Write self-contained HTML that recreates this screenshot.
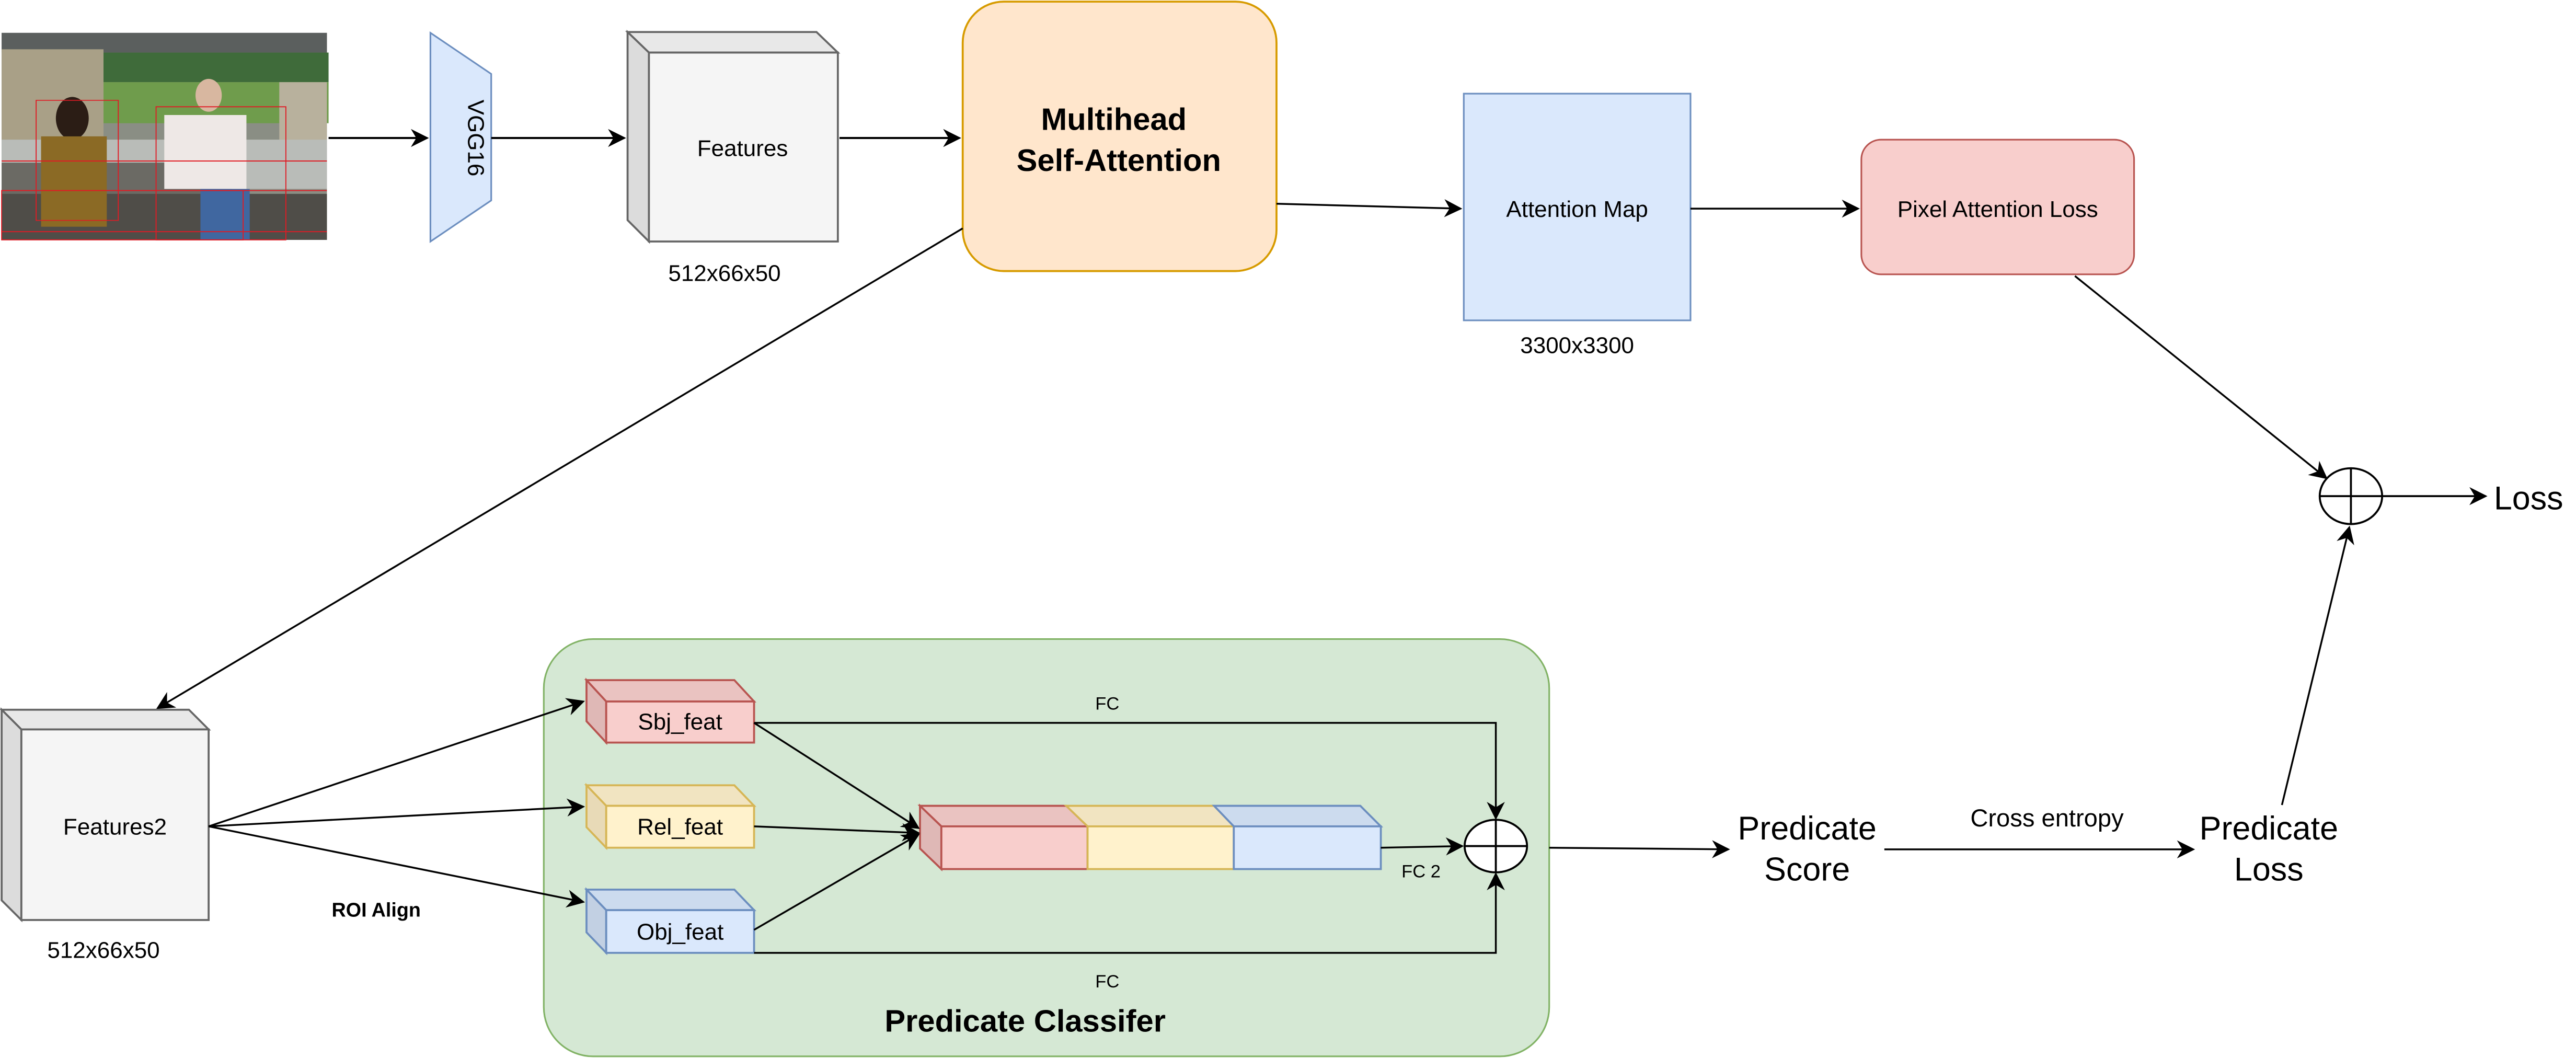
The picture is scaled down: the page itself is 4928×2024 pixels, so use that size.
<!DOCTYPE html>
<html><head><meta charset="utf-8"><style>
html,body{margin:0;padding:0;background:#fff;}
svg{display:block;}
text{font-family:"Liberation Sans",Arial,sans-serif;fill:#000;}
</style></head><body>
<svg width="4928" height="2024" viewBox="0 0 1568 644" xmlns="http://www.w3.org/2000/svg">
<defs>
<marker id="a" viewBox="0 0 10 10" refX="9" refY="5" markerWidth="6" markerHeight="6" orient="auto-start-reverse" markerUnits="userSpaceOnUse">
<path d="M0,0 L10,5 L0,10 L3,5 z" fill="#000"/></marker>
<marker id="b" viewBox="0 0 10 10" refX="9" refY="5" markerWidth="11" markerHeight="11" orient="auto" markerUnits="userSpaceOnUse">
<path d="M0,0 L10,5 L0,10 L3,5 z" fill="#000"/></marker>
</defs>
<rect width="1568" height="644" fill="#fff"/>

<!-- photo -->
<g>
<rect x="1" y="20" width="198" height="126" fill="#8a8e84"/>
<rect x="1" y="20" width="198" height="12" fill="#5b5f5e"/>
<rect x="60" y="32" width="140" height="18" fill="#3f6b3a"/>
<rect x="60" y="50" width="140" height="25" fill="#6f9c4c"/>
<rect x="1" y="30" width="62" height="55" fill="#a9a087"/>
<rect x="170" y="50" width="29" height="40" fill="#b8b19d"/>
<rect x="1" y="85" width="198" height="30" fill="#b9bcb8"/>
<rect x="1" y="99" width="140" height="20" fill="#6b6a64"/>
<rect x="1" y="118" width="198" height="28" fill="#4f4d48"/>
<ellipse cx="44" cy="72" rx="10" ry="13" fill="#2b1d15"/>
<rect x="25" y="83" width="40" height="55" fill="#8b6a25"/>
<ellipse cx="127" cy="58" rx="8" ry="10" fill="#d8b7a0"/>
<rect x="100" y="70" width="50" height="45" fill="#eee8e6"/>
<rect x="122" y="115" width="30" height="31" fill="#4067a0"/>
<g fill="none" stroke="#e01b24" stroke-width="0.6">
<rect x="22" y="71" width="50" height="85" transform="scale(1,0.86)"/>
<rect x="95" y="65" width="79" height="81"/>
<line x1="1" y1="98" x2="199" y2="98"/>
<line x1="1" y1="116" x2="199" y2="116"/>
<line x1="1" y1="141" x2="199" y2="141"/>
<rect x="1" y="116" width="147" height="30"/>
</g>
</g>

<!-- arrow photo->VGG -->
<line x1="200" y1="84" x2="260" y2="84" stroke="#000" stroke-width="1.3" marker-end="url(#b)"/>
<!-- VGG16 -->
<polygon points="262,20 299,45 299,122 262,147" fill="#dae8fc" stroke="#6c8ebf" stroke-width="1"/>
<text x="0" y="0" font-size="14" text-anchor="middle" transform="translate(285,84) rotate(90)" dy="0">VGG16</text>
<line x1="299" y1="84" x2="380" y2="84" stroke="#000" stroke-width="1.3" marker-end="url(#b)"/>

<!-- Features cube -->
<g stroke="#666" stroke-width="1.2">
<polygon points="382,19.5 497,19.5 510,32 395,32" fill="#e8e8e8"/>
<polygon points="382,19.5 395,32 395,147 382,134" fill="#dcdcdc"/>
<rect x="395" y="32" width="115" height="115" fill="#f5f5f5"/>
</g>
<text x="452" y="95" font-size="14" text-anchor="middle" fill="#333">Features</text>
<text x="441" y="171" font-size="14" text-anchor="middle">512x66x50</text>
<line x1="511" y1="84" x2="584" y2="84" stroke="#000" stroke-width="1.3" marker-end="url(#b)"/>

<!-- Multihead -->
<rect x="586" y="1" width="191" height="164" rx="25" fill="#ffe6cc" stroke="#d79b00" stroke-width="1.2"/>
<text x="678" y="79" font-size="19" font-weight="bold" text-anchor="middle">Multihead</text>
<text x="681" y="104" font-size="19" font-weight="bold" text-anchor="middle">Self-Attention</text>
<line x1="777" y1="124" x2="889" y2="127" stroke="#000" stroke-width="1.1" marker-end="url(#b)"/>

<!-- Attention map -->
<rect x="891" y="57" width="138" height="138" fill="#dae8fc" stroke="#6c8ebf" stroke-width="1"/>
<text x="960" y="132" font-size="14" text-anchor="middle">Attention Map</text>
<text x="960" y="215" font-size="14" text-anchor="middle">3300x3300</text>
<line x1="1029" y1="127" x2="1131" y2="127" stroke="#000" stroke-width="1.1" marker-end="url(#b)"/>

<!-- Pixel attention loss -->
<rect x="1133" y="85" width="166" height="82" rx="12" fill="#f8cecc" stroke="#b85450" stroke-width="1"/>
<text x="1216" y="132" font-size="14" text-anchor="middle">Pixel Attention Loss</text>
<line x1="1263" y1="168" x2="1416" y2="291" stroke="#000" stroke-width="1.1" marker-end="url(#b)"/>

<!-- sum circle top -->
<ellipse cx="1431" cy="302" rx="19" ry="17" fill="#fff" stroke="#000" stroke-width="1.2"/>
<line x1="1412" y1="302" x2="1450" y2="302" stroke="#000" stroke-width="1.2"/>
<line x1="1431" y1="285" x2="1431" y2="319" stroke="#000" stroke-width="1.2"/>
<line x1="1450" y1="302" x2="1513" y2="302" stroke="#000" stroke-width="1.2" marker-end="url(#b)"/>
<text x="1518" y="310" font-size="20">Loss</text>

<!-- MSA -> Features2 -->
<line x1="586" y1="139" x2="96" y2="431" stroke="#000" stroke-width="1.1" marker-end="url(#b)"/>

<!-- Features2 cube -->
<g stroke="#666" stroke-width="1.2">
<polygon points="1,432 115,432 127,444 13,444" fill="#e8e8e8"/>
<polygon points="1,432 13,444 13,560 1,548" fill="#dcdcdc"/>
<rect x="13" y="444" width="114" height="116" fill="#f5f5f5"/>
</g>
<text x="70" y="508" font-size="14" text-anchor="middle" fill="#333">Features2</text>
<text x="63" y="583" font-size="14" text-anchor="middle">512x66x50</text>

<!-- green container -->
<rect x="331" y="389" width="612" height="254" rx="30" fill="#d5e8d4" stroke="#82b366" stroke-width="1"/>
<text x="624" y="628" font-size="19" font-weight="bold" text-anchor="middle">Predicate Classifer</text>

<!-- ROI arrows -->
<g stroke="#000" stroke-width="1.1">
<line x1="127" y1="503" x2="355" y2="427" marker-end="url(#b)"/>
<line x1="127" y1="503" x2="355" y2="491" marker-end="url(#b)"/>
<line x1="127" y1="503" x2="355" y2="549" marker-end="url(#b)"/>
</g>
<text x="229" y="558" font-size="12" font-weight="bold" text-anchor="middle">ROI Align</text>

<!-- Sbj -->
<g stroke-width="1.2">
<g stroke="#b85450">
<polygon points="357,414 447,414 459,427 369,427" fill="#eac3c1"/>
<polygon points="357,414 369,427 369,452 357,439" fill="#dfb8b6"/>
<rect x="369" y="427" width="90" height="25" fill="#f8cecc"/>
</g>
<g stroke="#d6b656">
<polygon points="357,478 447,478 459,490.5 369,490.5" fill="#f1e4c1"/>
<polygon points="357,478 369,490.5 369,516 357,503.5" fill="#e8dab7"/>
<rect x="369" y="490.5" width="90" height="25.5" fill="#fff2cc"/>
</g>
<g stroke="#6c8ebf">
<polygon points="357,541.5 447,541.5 459,554 369,554" fill="#ccdbee"/>
<polygon points="357,541.5 369,554 369,580 357,567.5" fill="#c2d0e3"/>
<rect x="369" y="554" width="90" height="26" fill="#dae8fc"/>
</g>
</g>
<text x="414" y="444" font-size="14" text-anchor="middle">Sbj_feat</text>
<text x="414" y="508" font-size="14" text-anchor="middle">Rel_feat</text>
<text x="414" y="572" font-size="14" text-anchor="middle">Obj_feat</text>

<!-- concat -->
<g stroke-width="1.2">
<polygon points="560,490.5 649,490.5 662,503 573,503" fill="#eac3c1" stroke="#b85450"/>
<polygon points="560,490.5 573,503 573,529 560,516.5" fill="#dfb8b6" stroke="#b85450"/>
<rect x="573" y="503" width="89" height="26" fill="#f8cecc" stroke="#b85450"/>
<polygon points="649,490.5 739,490.5 751,503 662,503" fill="#f1e4c1" stroke="#d6b656"/>
<rect x="662" y="503" width="89" height="26" fill="#fff2cc" stroke="#d6b656"/>
<polygon points="739,490.5 828,490.5 840.5,503 751,503" fill="#ccdbee" stroke="#6c8ebf"/>
<rect x="751" y="503" width="89.5" height="26" fill="#dae8fc" stroke="#6c8ebf"/>
</g>

<g stroke="#000" stroke-width="1.1" fill="none">
<line x1="459" y1="440" x2="559" y2="504" marker-end="url(#b)"/>
<line x1="459" y1="503" x2="559" y2="507" marker-end="url(#b)"/>
<line x1="459" y1="566" x2="559" y2="508" marker-end="url(#b)"/>
<polyline points="459,440 910.5,440 910.5,498" marker-end="url(#b)"/>
<polyline points="459,580 910.5,580 910.5,532" marker-end="url(#b)"/>
<line x1="840.5" y1="516" x2="890" y2="515" marker-end="url(#b)"/>
</g>
<text x="674" y="432" font-size="11" text-anchor="middle">FC</text>
<text x="674" y="601" font-size="11" text-anchor="middle">FC</text>
<text x="865" y="534" font-size="11" text-anchor="middle">FC 2</text>

<ellipse cx="910.5" cy="515" rx="19" ry="16" fill="#fff" stroke="#000" stroke-width="1.2"/>
<line x1="891.5" y1="515" x2="929.5" y2="515" stroke="#000" stroke-width="1.2"/>
<line x1="910.5" y1="499" x2="910.5" y2="531" stroke="#000" stroke-width="1.2"/>

<line x1="943" y1="516" x2="1052" y2="517" stroke="#000" stroke-width="1.1" marker-end="url(#b)"/>
<text x="1100" y="511" font-size="20" text-anchor="middle">Predicate</text>
<text x="1100" y="536" font-size="20" text-anchor="middle">Score</text>
<line x1="1147" y1="517" x2="1335" y2="517" stroke="#000" stroke-width="1.1" marker-end="url(#b)"/>
<text x="1246" y="503" font-size="15" text-anchor="middle">Cross entropy</text>
<text x="1381" y="511" font-size="20" text-anchor="middle">Predicate</text>
<text x="1381" y="536" font-size="20" text-anchor="middle">Loss</text>
<line x1="1389" y1="490" x2="1430" y2="321" stroke="#000" stroke-width="1.1" marker-end="url(#b)"/>
</svg>
</body></html>
